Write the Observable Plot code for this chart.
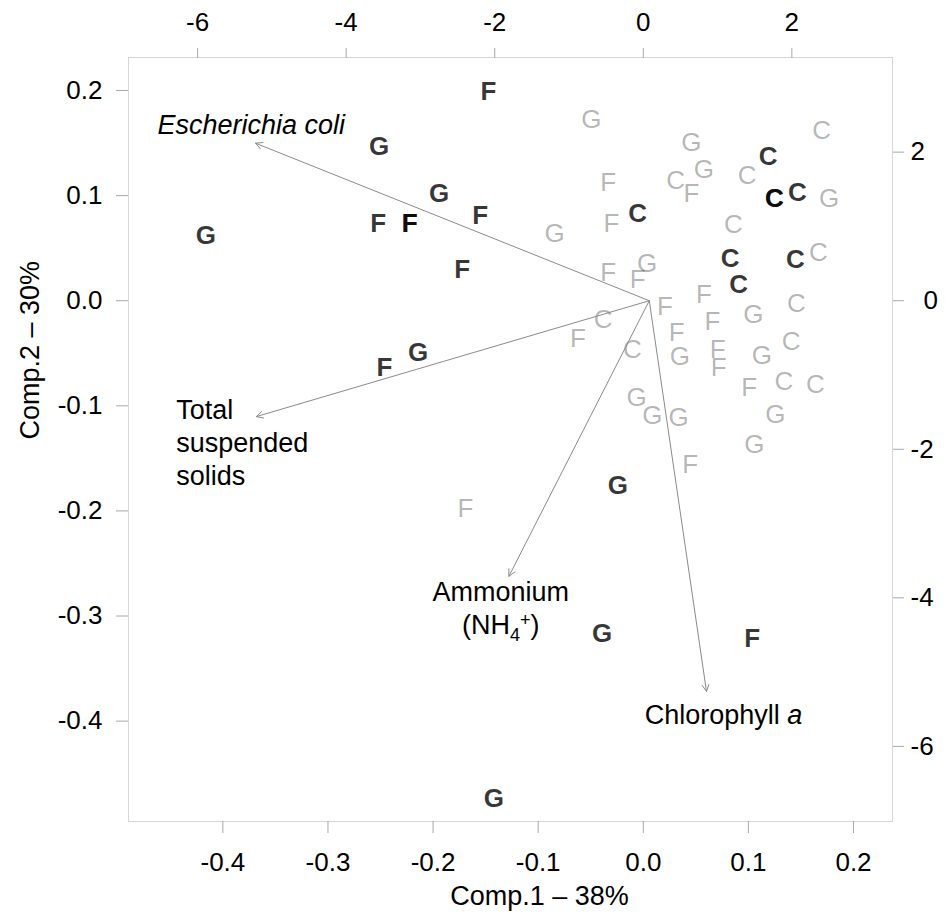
<!DOCTYPE html>
<html>
<head>
<meta charset="utf-8">
<script src="https://cdn.jsdelivr.net/npm/d3@7"></script>
<script src="https://cdn.jsdelivr.net/npm/@observablehq/plot@0.6"></script>
<style>
  body { margin: 0; background: #fff; }
  #chart svg { display: block; }
</style>
</head>
<body>
<div id="chart"></div>
<script>
// ---- Site scores (Comp.1, Comp.2) ----
// emphasised (bold, dark) sites
const darkLetter = ["F","G","G","F","F","F","F","F","G","C","C","C","C","C","C","C","C","G","F","G","G","F","G"];
const darkComp1  = [-0.153,-0.257,-0.200,-0.258,-0.228,-0.228,-0.161,-0.178,-0.422,-0.011,0.113,0.119,0.119,0.141,0.077,0.085,0.139,-0.220,-0.252,-0.030,-0.045,0.098,-0.148];
const darkComp2  = [0.199,0.147,0.102,0.073,0.073,0.073,0.081,0.030,0.062,0.083,0.137,0.097,0.097,0.103,0.040,0.015,0.039,-0.049,-0.064,-0.176,-0.317,-0.322,-0.474];

// other (light) sites
const lightLetter = ["G","G","C","G","C","F","C","G","F","F","G","C","C","F","G","F","F","F","C","G",
                     "F","C","F","F","C","C","G","F","F","G","F","C","C","G","G","G","G","G","F","F"];
const lightComp1  = [-0.055,0.040,0.164,0.052,0.025,0.040,0.093,0.171,-0.039,-0.036,-0.090,0.080,0.161,-0.039,-0.002,-0.011,0.052,0.015,0.140,0.099,
                     0.060,-0.044,-0.068,0.026,0.135,-0.016,0.029,0.065,0.066,0.107,0.095,0.128,0.158,-0.012,0.003,0.028,0.120,0.100,0.039,-0.175];
const lightComp2  = [0.172,0.150,0.162,0.125,0.114,0.102,0.119,0.097,0.112,0.073,0.064,0.072,0.046,0.027,0.035,0.020,0.006,-0.006,-0.003,-0.013,
                     -0.020,-0.018,-0.036,-0.030,-0.039,-0.047,-0.053,-0.047,-0.064,-0.052,-0.083,-0.077,-0.080,-0.092,-0.109,-0.111,-0.108,-0.137,-0.156,-0.198];

// ---- Variable loadings (secondary axes, top / right) ----
const varLabel  = ["Escherichia coli", "Total\nsuspended\nsolids", "Ammonium\n(NH4+)", "Chlorophyll a"];
const loadX     = [-5.30, -5.29, -1.89, 0.77];
const loadY     = [2.12, -1.56, -3.71, -5.26];
const labelX    = [-5.36, -6.37, -2.00, 1.00];
const labelY    = [2.38, -1.89, -4.12, -5.56];
const labelAnchor = ["middle", "start", "middle", "middle"];

// ---- Axes ----
const primaryTicks   = [-0.4, -0.3, -0.2, -0.1, 0.0, 0.1, 0.2];
const secondaryTicks = [-6, -4, -2, 0, 2];
const ratio = 14.15;              // secondary units per primary unit
const domain = [-0.4955, 0.2314];
const xTitle = "Comp.1 \u2013 38%";
const yTitle = "Comp.2 \u2013 30%";

const idxDark  = d3.range(darkLetter.length);
const idxLight = d3.range(lightLetter.length);
const idxVar   = d3.range(varLabel.length);

const font = "'Liberation Sans', Arial, Helvetica, sans-serif";

const chart = Plot.plot({
  width: 945,
  height: 922,
  marginLeft: 128,
  marginRight: 53,
  marginTop: 57,
  marginBottom: 101,
  style: { fontFamily: font, fontSize: "26px", color: "black", background: "white" },
  x: { domain },
  y: { domain },
  marks: [
    Plot.frame({ stroke: "#d6d6d6" }),
    // bottom axis
    Plot.axisX({ anchor: "bottom", ticks: primaryTicks, tickFormat: d => d.toFixed(1),
      tickSize: 12, tickPadding: 19, stroke: "#a8a8a8", fill: "black", fontSize: 26, dx: -6, label: null }),
    // left axis
    Plot.axisY({ anchor: "left", ticks: primaryTicks, tickFormat: d => d.toFixed(1),
      tickSize: 12, tickPadding: 14, stroke: "#a8a8a8", fill: "black", fontSize: 26, label: null }),
    // top axis (loadings)
    Plot.axisX({ anchor: "top", ticks: secondaryTicks.map(v => v / ratio),
      tickFormat: d => String(Math.round(d * ratio)),
      tickSize: 10, tickPadding: 17, stroke: "#a8a8a8", fill: "black", fontSize: 26, dx: -6, label: null }),
    // right axis (loadings)
    Plot.axisY({ anchor: "right", ticks: secondaryTicks.map(v => v / ratio),
      tickFormat: d => { const v = Math.round(d * ratio); return v === 0 ? "\u20020" : String(v); },
      tickSize: 11, tickPadding: 7, stroke: "#a8a8a8", fill: "black", fontSize: 26, label: null }),
    // axis titles
    Plot.text([xTitle], { frameAnchor: "bottom", dx: 29, dy: 83, fontSize: 27, fill: "black" }),
    Plot.text([yTitle], { frameAnchor: "left", rotate: -90, dx: -98, fontSize: 27, fill: "black" }),
    // site letters
    Plot.text(idxLight, { x: i => lightComp1[i], y: i => lightComp2[i], text: i => lightLetter[i],
      fill: "black", fillOpacity: 0.3, fontSize: 26 }),
    Plot.text(idxDark, { x: i => darkComp1[i], y: i => darkComp2[i], text: i => darkLetter[i],
      fill: "black", fillOpacity: 0.78, fontSize: 26, fontWeight: "bold" }),
    // loading arrows
    Plot.arrow(idxVar, { x1: () => 0, y1: () => 0,
      x2: i => loadX[i] / ratio, y2: i => loadY[i] / ratio,
      stroke: "#8a8a8a", strokeWidth: 1, headLength: 11, headAngle: 55 }),
    // loading labels
    ...idxVar.map(k => Plot.text([k], { x: i => labelX[i] / ratio, y: i => labelY[i] / ratio,
      text: i => varLabel[i], textAnchor: labelAnchor[k], lineHeight: 1.22,
      fill: "black", fontSize: 27 }))
  ]
});

// rich-text touches: italics, sub/superscript
chart.querySelectorAll("text").forEach(t => {
  const s = t.textContent;
  if (s === "Escherichia coli") {
    t.setAttribute("font-style", "italic");
  } else if (s === "Chlorophyll a") {
    t.textContent = "Chlorophyll ";
    const it = document.createElementNS("http://www.w3.org/2000/svg", "tspan");
    it.setAttribute("font-style", "italic");
    it.textContent = "a";
    t.appendChild(it);
  }
});
chart.querySelectorAll("tspan").forEach(ts => {
  if (ts.textContent === "(NH4+)") {
    ts.textContent = "(NH";
    const ns = "http://www.w3.org/2000/svg";
    const sub = document.createElementNS(ns, "tspan");
    sub.setAttribute("font-size", "18px"); sub.setAttribute("dy", "7"); sub.textContent = "4";
    const sup = document.createElementNS(ns, "tspan");
    sup.setAttribute("font-size", "18px"); sup.setAttribute("dy", "-15"); sup.textContent = "+";
    const close = document.createElementNS(ns, "tspan");
    close.setAttribute("dy", "8"); close.textContent = ")";
    ts.appendChild(sub); ts.appendChild(sup); ts.appendChild(close);
  }
});

document.getElementById("chart").appendChild(chart);
</script>
</body>
</html>
